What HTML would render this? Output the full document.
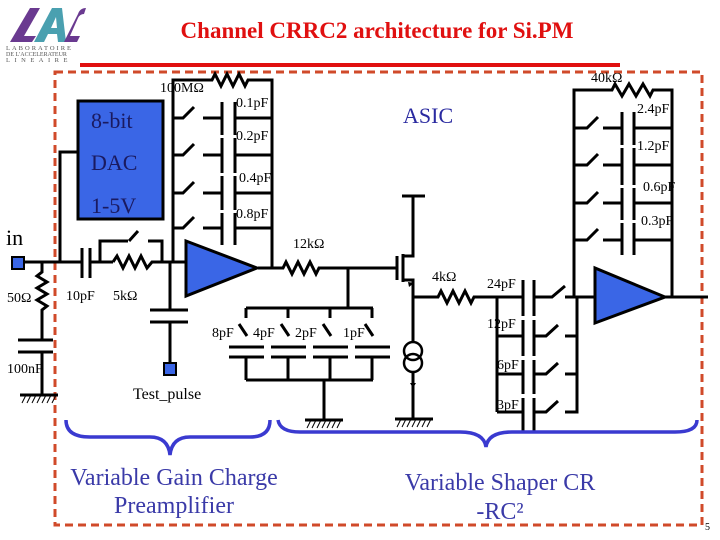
<!DOCTYPE html>
<html><head><meta charset="utf-8"><style>
html,body{margin:0;padding:0;background:#fff}
svg{display:block}
text{font-family:"Liberation Serif",serif}
</style></head><body>
<svg width="720" height="540" viewBox="0 0 720 540" xmlns="http://www.w3.org/2000/svg">
<!-- logo -->
<g>
<path d="M10 42 L30 8 L40 8 L24 36 L36 36 L32 42 Z" fill="#6a3a90"/>
<path d="M34 42 L52 8 L62 8 L66 42 L58 42 L57 34 L48 34 L44 42 Z M51 28 L57 28 L56 17 Z" fill="#4aa0b0"/>
<path d="M64 42 L78 14 Q80 8 86 8 L84 14 Q80 14 78 18 L70 36 L80 36 L77 42 Z" fill="#6a3a90"/>
<text x="6" y="50" font-size="6.5" fill="#555" font-family="Liberation Sans,sans-serif" letter-spacing="2">LABORATOIRE</text>
<text x="6" y="56" font-size="6" fill="#555" font-family="Liberation Sans,sans-serif">DE L'ACCELERATEUR</text>
<text x="6" y="62" font-size="6.5" fill="#555" font-family="Liberation Sans,sans-serif" letter-spacing="4.5">LINEAIRE</text>
</g>
<text x="377" y="38" text-anchor="middle" font-size="23" font-weight="bold" fill="#e01010">Channel CRRC2 architecture for Si.PM</text>
<rect x="80" y="63" width="540" height="4" fill="#e01010"/>
<rect x="55" y="72" width="647" height="453" fill="none" stroke="#d04a2a" stroke-width="3" stroke-dasharray="8,5"/>

<g stroke="#000" stroke-width="3" fill="none">
<line x1="24" y1="262" x2="82" y2="262"/>
<line x1="82" y1="248" x2="82" y2="278"/><line x1="90" y1="248" x2="90" y2="278"/>
<line x1="90" y1="262" x2="113" y2="262"/>
<path d="M113 262 l4 -6 l6 12 l6 -12 l6 12 l6 -12 l6 12 l5 -6 H186"/>
<path d="M100 262 V241 H128 M129 241 L138 231 M148 241 H162 V262"/>
<path d="M60 262 V152 H78"/>
<path d="M42 262 V272 l-5 4 l10 6 l-10 6 l10 6 l-10 6 l10 6 l-5 4 V340"/>
<line x1="18" y1="340" x2="53" y2="340"/><line x1="18" y1="352" x2="53" y2="352"/>
<path d="M42 352 V395"/><line x1="20" y1="395" x2="58" y2="395"/>
<path d="M170 262 V310"/><line x1="150" y1="310" x2="188" y2="310"/><line x1="150" y1="322" x2="188" y2="322"/>
<path d="M170 322 V363"/>
<path d="M173 262 V80 H212 l3 -6 l6 12 l6 -12 l6 12 l6 -12 l6 12 l3 -6 H272 V268"/>
<g>
<path d="M173 118 H183 L194 107 M203 118 H222 M235 118 H272"/>
<path d="M173 155 H183 L194 144 M203 155 H222 M235 155 H272"/>
<path d="M173 193 H183 L194 182 M203 193 H222 M235 193 H272"/>
<path d="M173 228 H183 L194 217 M203 228 H222 M235 228 H272"/>
<path d="M222 102 V135 M222 138 V173 M222 176 V210 M222 213 V245"/>
<path d="M235 102 V135 M235 138 V173 M235 176 V210 M235 213 V245"/>
</g>
<path d="M258 268 H283 l3 -6 l6 12 l6 -12 l6 12 l6 -12 l6 12 l3 -6 H397"/>
<path d="M348 268 V308 M246 308 H373 M246 308 V318 M288 308 V318 M330 308 V318 M372 308 V318"/>
<path d="M239 324 L247 336 M281 324 L289 336 M323 324 L331 336 M365 324 L373 336"/>
<path d="M229 347 H264 M271 347 H306 M313 347 H348 M355 347 H390"/>
<path d="M229 357 H264 M271 357 H306 M313 357 H348 M355 357 H390"/>
<path d="M246 357 V380 M288 357 V380 M330 357 V380 M372 357 V380 M246 380 H373 M324 380 V420"/>
<line x1="305" y1="420" x2="343" y2="420"/>
<line x1="397" y1="256" x2="397" y2="280"/>
<line x1="403" y1="254" x2="403" y2="282"/>
<path d="M403 256 H413 V196 M402 196 H425"/>
<path d="M403 280 H413 V341"/>
<path d="M413 297 H438 l3 -6 l6 12 l6 -12 l6 12 l6 -12 l6 12 l3 -6 H497"/>
<circle cx="413" cy="351" r="9" stroke-width="2.5"/><circle cx="413" cy="363" r="9" stroke-width="2.5"/>
<path d="M413 372 V418"/><line x1="395" y1="419" x2="433" y2="419"/>
<path d="M497 297 V412 M497 297 H523 M497 336 H523 M497 374 H523 M497 412 H523"/>
<path d="M523 280 V316 M523 320 V356 M523 360 V394 M523 398 V432"/>
<path d="M534 280 V316 M534 320 V356 M534 360 V394 M534 398 V432"/>
<path d="M534 297 H552 L565 286 M565 297 H597"/>
<path d="M534 336 H546 L558 325 M565 336 H577"/>
<path d="M534 374 H546 L558 363 M565 374 H577"/>
<path d="M534 412 H546 L558 401 M565 412 H577 V297"/>
<path d="M574 297 V90 H612 l3 -6 l7 12 l7 -12 l7 12 l7 -12 l7 12 l3 -6 H672 V297 M665 297 H708"/>
<path d="M574 128 H587 L598 117 M603 128 H622 M634 128 H672"/>
<path d="M574 165 H587 L598 154 M603 165 H622 M634 165 H672"/>
<path d="M574 203 H587 L598 192 M603 203 H622 M634 203 H672"/>
<path d="M574 240 H587 L598 229 M603 240 H622 M634 240 H672"/>
<path d="M622 112 V145 M622 148 V185 M622 188 V220 M622 223 V255"/>
<path d="M634 112 V145 M634 148 V185 M634 188 V220 M634 223 V255"/>
</g>
<g stroke="#000" stroke-width="1">
<path d="M22 403 l4 -8 M27 403 l4 -8 M32 403 l4 -8 M37 403 l4 -8 M42 403 l4 -8 M47 403 l4 -8 M52 403 l4 -8"/>
<path d="M307 428 l4 -8 M312 428 l4 -8 M317 428 l4 -8 M322 428 l4 -8 M327 428 l4 -8 M332 428 l4 -8 M337 428 l4 -8"/>
<path d="M397 427 l4 -8 M402 427 l4 -8 M407 427 l4 -8 M412 427 l4 -8 M417 427 l4 -8 M422 427 l4 -8 M427 427 l4 -8"/>
</g>
<path d="M408 282 L414 283 L409 287 Z M413 388 l-3 -5 h6 Z" fill="#000"/>
<rect x="78" y="101" width="85" height="118" fill="#3a66e6" stroke="#000" stroke-width="3"/>
<rect x="12" y="257" width="12" height="12" fill="#3a66e6" stroke="#000" stroke-width="2"/>
<rect x="164" y="363" width="12" height="12" fill="#3a66e6" stroke="#000" stroke-width="2"/>
<polygon points="186,241 186,296 257,268" fill="#3a66e6" stroke="#000" stroke-width="3"/>
<polygon points="595,268 595,323 665,297" fill="#3a66e6" stroke="#000" stroke-width="3"/>
<g fill="none" stroke="#3a3ad0" stroke-width="3.5">
<path d="M66 420 Q66 437 90 437 H150 Q168 437 170 455 Q172 437 190 437 H250 Q270 437 270 420"/>
<path d="M278 420 Q280 432 300 432 H460 Q484 432 486 447 Q488 432 512 432 H675 Q697 432 697 420"/>
</g>
<g font-size="14" fill="#000">
<text x="160" y="92">100MΩ</text>
<text x="236" y="107">0.1pF</text><text x="236" y="140">0.2pF</text><text x="239" y="182">0.4pF</text><text x="236" y="218">0.8pF</text>
<text x="293" y="248">12kΩ</text>
<text x="7" y="302">50Ω</text><text x="66" y="300">10pF</text><text x="113" y="300">5kΩ</text>
<text x="7" y="373">100nF</text>
<text x="212" y="337">8pF</text><text x="253" y="337">4pF</text><text x="295" y="337">2pF</text><text x="343" y="337">1pF</text>
<text x="432" y="281">4kΩ</text>
<text x="487" y="288">24pF</text><text x="487" y="328">12pF</text><text x="497" y="369">6pF</text><text x="497" y="409">3pF</text>
<text x="591" y="82">40kΩ</text>
<text x="637" y="113">2.4pF</text><text x="637" y="150">1.2pF</text><text x="643" y="191">0.6pF</text><text x="641" y="225">0.3pF</text>
<text x="133" y="399" font-size="16">Test_pulse</text>
<text x="6" y="245" font-size="22">in</text>
<text x="705" y="530" font-size="10">5</text>
</g>
<g font-size="22" fill="#1a1a60">
<text x="91" y="128">8-bit</text><text x="91" y="170">DAC</text><text x="91" y="213">1-5V</text>
</g>
<text x="403" y="123" font-size="22" fill="#2a2aa0">ASIC</text>
<g font-size="24" fill="#3a3aa8" text-anchor="middle">
<text x="174" y="485">Variable Gain Charge</text>
<text x="174" y="513">Preamplifier</text>
<text x="500" y="490">Variable Shaper CR</text>
<text x="500" y="519">-RC²</text>
</g>
</svg>
</body></html>
